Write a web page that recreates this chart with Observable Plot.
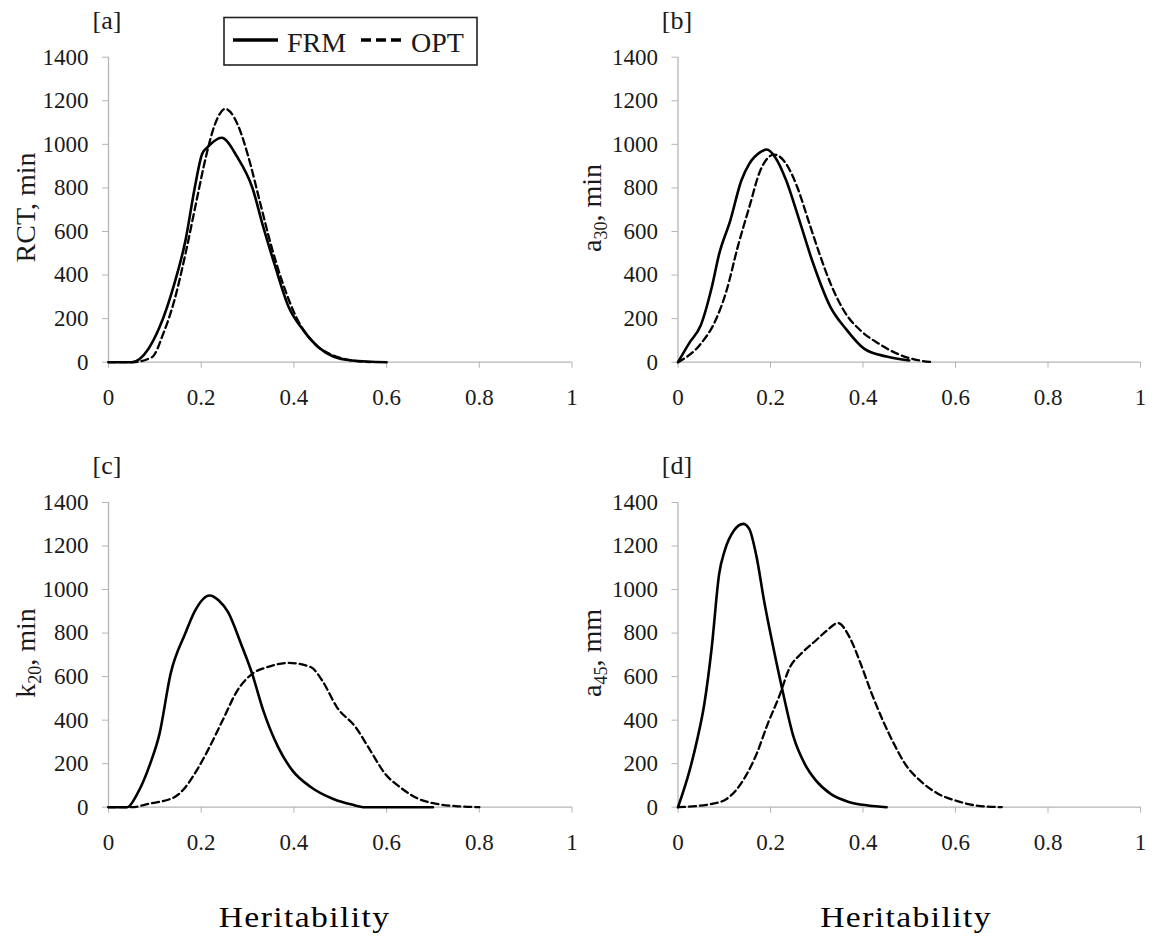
<!DOCTYPE html>
<html><head><meta charset="utf-8">
<script src="https://cdn.jsdelivr.net/npm/d3@7"></script>
<script src="https://cdn.jsdelivr.net/npm/@observablehq/plot@0.6"></script>
<style>
body{margin:0;background:#fff;}
#root{position:relative;width:1153px;height:944px;background:#fff;overflow:hidden;font-family:"Liberation Serif","Times New Roman",serif;}
.panel{position:absolute;}
#overlay{position:absolute;left:0;top:0;pointer-events:none;}
</style></head><body><div id="root"></div>
<script>
// ---- ticks / labels ----
const heritTicks = [0, 0.2, 0.4, 0.6, 0.8, 1];
const valueTicks = [0, 200, 400, 600, 800, 1000, 1200, 1400];
const seriesNames = ["FRM", "OPT"];
const panelLetters = ["[a]", "[b]", "[c]", "[d]"];
const yLabelMain = ["RCT", "a", "k", "a"];
const yLabelSub = ["", "30", "20", "45"];
const yLabelUnit = [", min", ", min", ", min", ", mm"];
const xAxisTitle = "Heritability";

// ---- [a] RCT ----
const rctFrmX = [0, 0.05, 0.086, 0.11, 0.142, 0.166, 0.186, 0.202, 0.214, 0.244, 0.278, 0.31, 0.334, 0.358, 0.389, 0.421, 0.453, 0.485, 0.525, 0.6];
const rctFrmY = [0, 0, 61, 160, 360, 558, 800, 956, 987, 1030, 941, 803, 620, 451, 252, 145, 69, 26, 8, 0];
const rctOptX = [0, 0.05, 0.094, 0.118, 0.142, 0.166, 0.19, 0.21, 0.23, 0.252, 0.278, 0.302, 0.326, 0.35, 0.374, 0.405, 0.445, 0.485, 0.525, 0.565];
const rctOptY = [0, 0, 23, 130, 283, 497, 742, 941, 1094, 1163, 1094, 941, 742, 543, 375, 207, 84, 31, 8, 0];

// ---- [b] a30 ----
const a30FrmX = [0, 0.025, 0.049, 0.073, 0.089, 0.113, 0.137, 0.154, 0.178, 0.192, 0.21, 0.234, 0.258, 0.29, 0.33, 0.363, 0.403, 0.451, 0.5];
const a30FrmY = [0, 90, 168, 344, 497, 650, 834, 910, 964, 976, 941, 834, 681, 467, 252, 153, 61, 26, 8];
const a30OptX = [0, 0.049, 0.081, 0.105, 0.129, 0.154, 0.178, 0.208, 0.234, 0.258, 0.282, 0.306, 0.33, 0.363, 0.395, 0.435, 0.475, 0.515, 0.551];
const a30OptY = [0, 84, 191, 329, 528, 711, 880, 953, 910, 803, 650, 497, 360, 222, 145, 84, 38, 11, 0];

// ---- [c] k20 ----
const k20FrmX = [0, 0.04, 0.062, 0.09, 0.11, 0.134, 0.166, 0.186, 0.218, 0.238, 0.258, 0.286, 0.31, 0.334, 0.366, 0.397, 0.437, 0.485, 0.525, 0.553, 0.7];
const k20FrmY = [0, 0, 61, 200, 337, 613, 800, 900, 973, 950, 896, 750, 613, 444, 276, 168, 92, 38, 12, 0, 0];
const k20OptX = [0, 0.05, 0.086, 0.142, 0.166, 0.19, 0.214, 0.246, 0.278, 0.31, 0.342, 0.389, 0.437, 0.461, 0.493, 0.533, 0.565, 0.597, 0.629, 0.669, 0.709, 0.749, 0.8];
const k20OptY = [0, 0, 15, 46, 92, 168, 260, 398, 536, 613, 643, 663, 643, 582, 459, 368, 260, 153, 92, 38, 15, 5, 0];

// ---- [d] a45 ----
const a45FrmX = [0, 0.025, 0.041, 0.057, 0.073, 0.089, 0.101, 0.121, 0.141, 0.154, 0.17, 0.186, 0.206, 0.226, 0.25, 0.274, 0.298, 0.33, 0.371, 0.411, 0.451];
const a45FrmY = [0, 168, 306, 475, 735, 1072, 1179, 1271, 1302, 1279, 1149, 950, 735, 536, 322, 199, 123, 61, 23, 8, 0];
const a45OptX = [0, 0.073, 0.105, 0.145, 0.17, 0.194, 0.218, 0.242, 0.266, 0.298, 0.322, 0.346, 0.371, 0.395, 0.419, 0.443, 0.467, 0.491, 0.523, 0.563, 0.604, 0.644, 0.7];
const a45OptY = [0, 15, 38, 138, 245, 383, 505, 643, 705, 766, 812, 846, 781, 659, 521, 398, 291, 199, 123, 61, 28, 8, 0];

const panelsData = [
  [rctFrmX, rctFrmY, rctOptX, rctOptY],
  [a30FrmX, a30FrmY, a30OptX, a30OptY],
  [k20FrmX, k20FrmY, k20OptX, k20OptY],
  [a45FrmX, a45FrmY, a45OptX, a45OptY]
];

// layout (pixels)
const geoms = [
  {left: 0,   top: 0,   width: 580, height: 420, ml: 108,   mr: 8.5, mt: 56.7, mb: 58.3},
  {left: 570, top: 0,   width: 580, height: 420, ml: 107.5, mr: 10,  mt: 56.7, mb: 58.3},
  {left: 0,   top: 440, width: 580, height: 420, ml: 108,   mr: 8.5, mt: 62,   mb: 53.3},
  {left: 570, top: 440, width: 580, height: 420, ml: 107.5, mr: 10,  mt: 62,   mb: 53.3}
];

const root = document.getElementById("root");
const axisGray = "#b5b5b5";
const ink = "#1a1a1a";

function toRows(xs, ys) { return xs.map((x, i) => ({h: x, v: ys[i]})); }

panelsData.forEach(([fx, fy, ox, oy], i) => {
  const g = geoms[i];
  const chart = Plot.plot({
    width: g.width, height: g.height,
    marginLeft: g.ml, marginRight: g.mr, marginTop: g.mt, marginBottom: g.mb,
    style: {background: "transparent", fontFamily: "'Liberation Serif', 'Times New Roman', serif", fontSize: "23px", color: ink, overflow: "visible"},
    x: {domain: [0, 1]},
    y: {domain: [0, 1400]},
    marks: [
      Plot.ruleX([0], {stroke: axisGray, strokeWidth: 1.3}),
      Plot.ruleY([0], {stroke: axisGray, strokeWidth: 1.3}),
      Plot.axisX({ticks: heritTicks, tickFormat: d => String(d), tickSize: 6, tickPadding: 20, stroke: axisGray, fill: ink, label: null}),
      Plot.axisY({ticks: valueTicks, tickFormat: d => String(d), tickSize: 6, tickPadding: 14, stroke: axisGray, fill: ink, label: null}),
      Plot.line(toRows(fx, fy), {x: "h", y: "v", curve: "monotone-x", stroke: "#000", strokeWidth: 2.6}),
      Plot.line(toRows(ox, oy), {x: "h", y: "v", curve: "monotone-x", stroke: "#000", strokeWidth: 2.3, strokeDasharray: "7,4"})
    ]
  });
  const div = document.createElement("div");
  div.className = "panel";
  div.style.left = g.left + "px";
  div.style.top = g.top + "px";
  div.appendChild(chart);
  root.appendChild(div);
});

// overlay text
const svg = d3.select(root).append("svg").attr("id", "overlay")
  .attr("width", 1153).attr("height", 944)
  .style("font-family", "'Liberation Serif', 'Times New Roman', serif");

const letterPos = [[107, 28.5], [677, 28.5], [107, 474], [677, 474]];
panelLetters.forEach((t, i) => {
  svg.append("text").attr("x", letterPos[i][0]).attr("y", letterPos[i][1])
    .attr("text-anchor", "middle").attr("font-size", 26).attr("fill", ink).text(t);
});

const ylabPos = [[35, 207.5], [601, 208], [35, 653], [601, 653]];
yLabelMain.forEach((m, i) => {
  const t = svg.append("text")
    .attr("transform", `translate(${ylabPos[i][0]},${ylabPos[i][1]}) rotate(-90)`)
    .attr("text-anchor", "middle").attr("font-size", 28).attr("fill", ink);
  t.append("tspan").text(m);
  if (yLabelSub[i]) {
    t.append("tspan").attr("font-size", 18).attr("dy", 6).text(yLabelSub[i]);
    t.append("tspan").attr("dy", -6).text(yLabelUnit[i]);
  } else {
    t.append("tspan").text(yLabelUnit[i]);
  }
});

// legend
const lg = svg.append("g");
lg.append("rect").attr("x", 224).attr("y", 17.5).attr("width", 253).attr("height", 47.5)
  .attr("fill", "#fff").attr("stroke", "#222").attr("stroke-width", 1.6);
lg.append("line").attr("x1", 233).attr("x2", 278).attr("y1", 40).attr("y2", 40)
  .attr("stroke", "#000").attr("stroke-width", 3.4);
lg.append("text").attr("x", 287).attr("y", 51.5).attr("font-size", 28).attr("fill", ink).text(seriesNames[0]);
lg.append("line").attr("x1", 361).attr("x2", 401).attr("y1", 40).attr("y2", 40)
  .attr("stroke", "#000").attr("stroke-width", 3.4).attr("stroke-dasharray", "10,5");
lg.append("text").attr("x", 411).attr("y", 51.5).attr("font-size", 28).attr("fill", ink).text(seriesNames[1]);

// x titles
[304.5, 906].forEach(cx => {
  svg.append("text").attr("transform", `translate(${cx},927) scale(1.16,1)`)
    .attr("text-anchor", "middle").attr("font-size", 29).attr("letter-spacing", 1.2)
    .attr("fill", "#000").text(xAxisTitle);
});
</script></body></html>
